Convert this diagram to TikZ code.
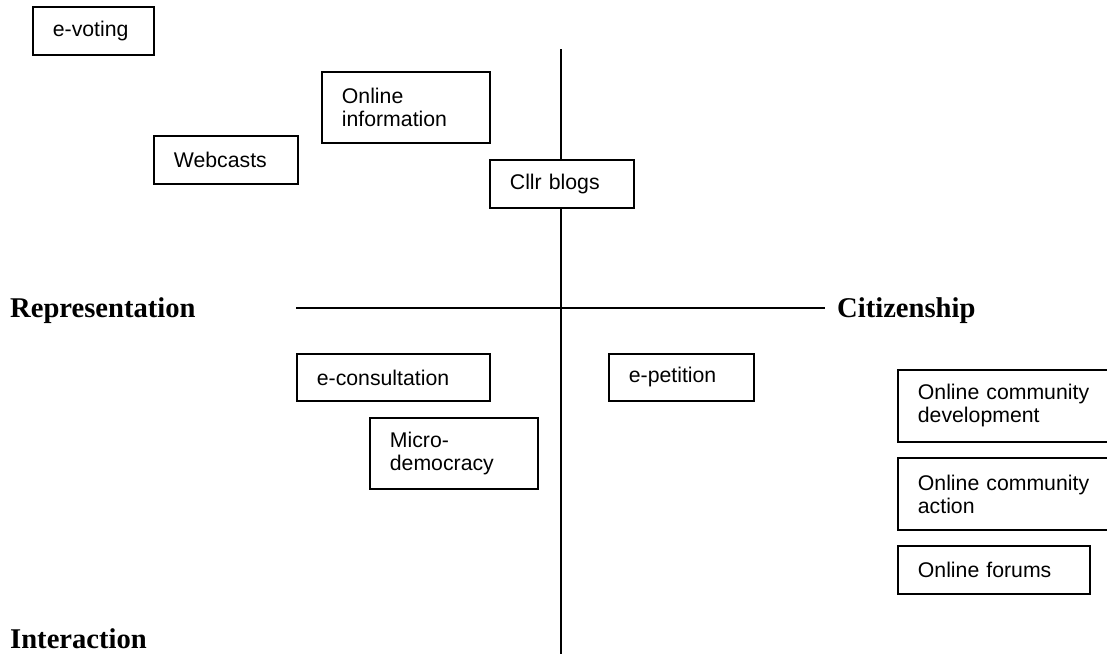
\documentclass[tikz,border=0pt]{standalone}
\usepackage{fontspec}
\setmainfont{Liberation Sans}
\newfontfamily\axisfont{Liberation Serif}
\begin{document}
\begin{tikzpicture}[x=1pt,y=-1pt,
  tool/.style={draw=black, line width=1.8pt, rectangle, anchor=north west,
    inner xsep=20pt, inner ysep=0pt, align=left,
    font=\fontsize{21.25}{23}\selectfont},
  axislabel/.style={anchor=base west, inner sep=0pt,
    font=\axisfont\bfseries\fontsize{28.6}{32}\selectfont},
  axis/.style={line width=2.3pt}]
  \useasboundingbox (0,0) rectangle (1107,654);
  \clip (0,0) rectangle (1107,654);

  % axes
  \coordinate (vtop) at (561,49);
  \coordinate (vbot) at (561,654);
  \coordinate (hleft) at (296,308);
  \coordinate (hright) at (825,308);
  \draw[axis] (vtop) -- (vbot);
  \draw[axis] (hleft) -- (hright);

  % axis labels
  \node[axislabel] (repr) at (10,317) {Representation};
  \node[axislabel] (citz) at (837,317) {Citizenship};
  \node[axislabel] (inter) at (10,648) {Interaction};

  % tools, upper left quadrant
  \node[tool, minimum width=121pt, minimum height=48pt, text width=81pt] (evote) at (32,6) {e-voting};
  \node[tool, minimum width=144pt, minimum height=48pt, text width=104pt] (webcast) at (153,135) {Webcasts};
  \node[tool, minimum width=168pt, minimum height=71pt, text width=128pt] (oninfo) at (321,71) {Online\\information};
  \node[tool, minimum width=144pt, minimum height=48pt, text width=104pt, fill=white] (blogs) at (489,159) {Cllr blogs};

  % lower quadrants
  \node[tool, minimum width=193pt, minimum height=47pt, text width=153pt] (econs) at (296,353) {e-consultation};
  \node[tool, minimum width=168pt, minimum height=71pt, text width=128pt] (micro) at (369,417) {Micro-\\democracy};
  \node[tool, minimum width=145pt, minimum height=47pt, text width=105pt] (epet) at (608,353) {e-petition};

  % citizenship side
  \node[tool, minimum width=230pt, minimum height=72pt, text width=190pt] (ocdev) at (897,369) {Online community\\development};
  \node[tool, minimum width=230pt, minimum height=72pt, text width=190pt] (ocact) at (897,457) {Online community\\action};
  \node[tool, minimum width=192pt, minimum height=48pt, text width=152pt] (forums) at (897,545) {Online forums};
\end{tikzpicture}
\end{document}
